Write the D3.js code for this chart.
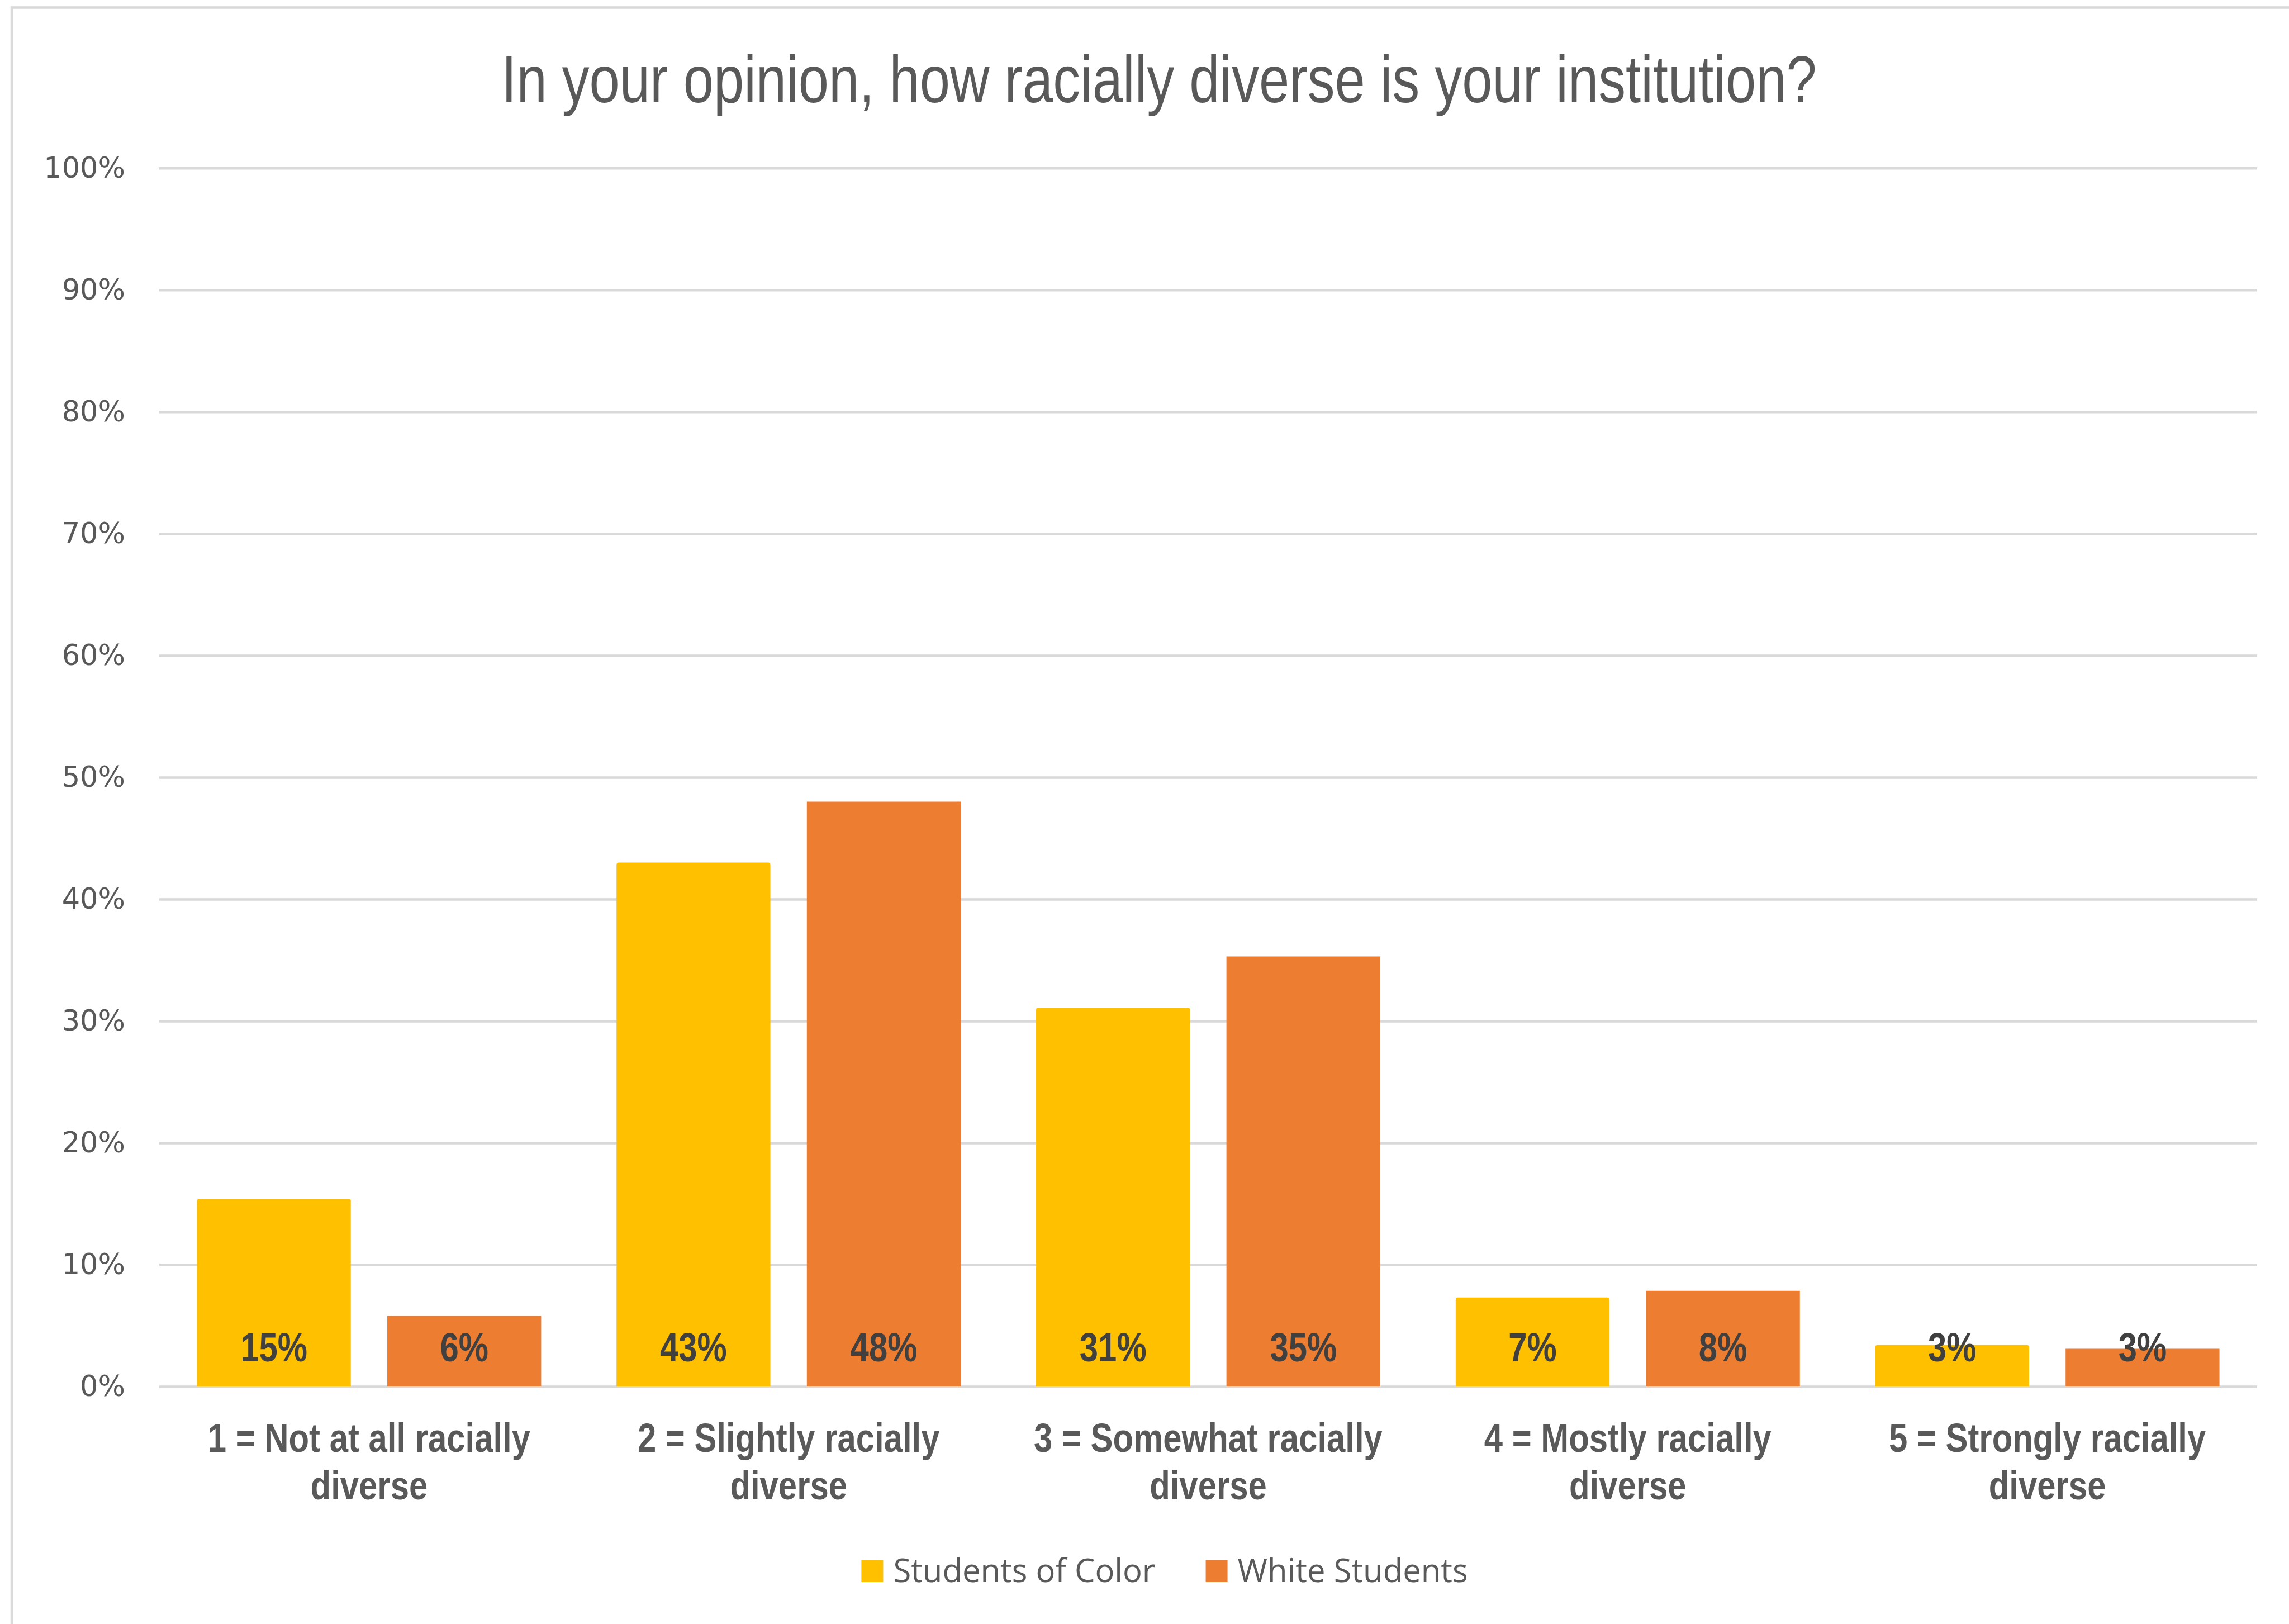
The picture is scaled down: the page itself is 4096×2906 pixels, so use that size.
<!DOCTYPE html>
<html>
<head>
<meta charset="utf-8">
<script src="https://cdn.jsdelivr.net/npm/d3@7"></script>
<style>
  html, body { margin: 0; padding: 0; background: #ffffff; }
  svg { display: block; }
</style>
</head>
<body>
<svg id="chart" width="4096" height="2906"></svg>
<script>
// ---- Data ----
const chartTitle = "In your opinion, how racially diverse is your institution?";
const categories = [
  "1 = Not at all racially diverse",
  "2 = Slightly racially diverse",
  "3 = Somewhat racially diverse",
  "4 = Mostly racially diverse",
  "5 = Strongly racially diverse"
];
const seriesNames = ["Students of Color", "White Students"];
const studentsOfColor = [0.154, 0.430, 0.311, 0.073, 0.034];
const whiteStudents   = [0.058, 0.480, 0.353, 0.0785, 0.031];
const yTickValues = [0, 0.1, 0.2, 0.3, 0.4, 0.5, 0.6, 0.7, 0.8, 0.9, 1.0];

// ---- Styles / layout ----
const seriesColors = { "Students of Color": "#FFC000", "White Students": "#ED7D31" };
const seriesCorner = { "Students of Color": 4, "White Students": 0 };
const plot = { left: 285, right: 4039, top: 300.8, bottom: 2481 };
const centerX = 2074;
const narrow = 0.82;           // horizontal squeeze for the condensed face
const textGray = "#595959";
const gridGray = "#d9d9d9";
const pct = d3.format(".0%");

const svg = d3.select("#chart");

// Chart frame (open on the right and bottom)
svg.append("rect")
  .attr("x", 21).attr("y", 13.5)
  .attr("width", 4300).attr("height", 3100)
  .attr("fill", "none")
  .attr("stroke", gridGray)
  .attr("stroke-width", 4.5);

// Title
svg.append("g")
  .attr("transform", `translate(${centerX},183) scale(${narrow},1)`)
  .append("text")
  .attr("text-anchor", "middle")
  .attr("font-family", "'Liberation Sans', Arial, sans-serif")
  .attr("font-size", 119)
  .attr("fill", textGray)
  .text(chartTitle);

// Scales
const y = d3.scaleLinear().domain([0, 1]).range([plot.bottom, plot.top]);
const x0 = d3.scaleBand().domain(categories).range([plot.left, plot.right]).padding(0);
const x1 = d3.scaleBand().domain(seriesNames).range([0, x0.bandwidth()])
  .paddingInner(0.1916).paddingOuter(0.198);

// Y axis with gridlines
const yAxis = d3.axisLeft(y)
  .tickValues(yTickValues)
  .tickFormat(pct)
  .tickSize(-(plot.right - plot.left))
  .tickPadding(61);

const axisG = svg.append("g")
  .attr("transform", `translate(${plot.left},0)`)
  .call(yAxis);
axisG.select(".domain").remove();
axisG.selectAll(".tick line")
  .attr("stroke", gridGray)
  .attr("stroke-width", 4.5);
axisG.selectAll(".tick text")
  .attr("font-family", "'DejaVu Sans', Verdana, sans-serif")
  .attr("font-size", 51)
  .attr("fill", textGray);

// Bars
const rows = categories.map((c, i) => ({
  cat: c,
  values: [
    { s: seriesNames[0], v: studentsOfColor[i] },
    { s: seriesNames[1], v: whiteStudents[i] }
  ]
}));

function barPath(x, yTop, w, yBase, r) {
  const h = yBase - yTop;
  r = Math.min(r, h / 2, w / 2);
  return `M${x},${yBase}` +
    `L${x},${yTop + r}` +
    `Q${x},${yTop} ${x + r},${yTop}` +
    `L${x + w - r},${yTop}` +
    `Q${x + w},${yTop} ${x + w},${yTop + r}` +
    `L${x + w},${yBase}Z`;
}

const groups = svg.append("g").selectAll("g.group")
  .data(rows)
  .join("g")
  .attr("class", "group")
  .attr("transform", d => `translate(${x0(d.cat)},0)`);

groups.selectAll("path.bar")
  .data(d => d.values)
  .join("path")
  .attr("class", "bar")
  .attr("fill", d => seriesColors[d.s])
  .attr("d", d => barPath(x1(d.s), y(d.v), x1.bandwidth(), y(0), seriesCorner[d.s]));

// Value labels, placed at the inside base of each bar
groups.selectAll("g.vlabel")
  .data(d => d.values)
  .join("g")
  .attr("class", "vlabel")
  .attr("transform", d => `translate(${x1(d.s) + x1.bandwidth() / 2},${y(0) - 45}) scale(${narrow},1)`)
  .append("text")
  .attr("text-anchor", "middle")
  .attr("font-family", "'Liberation Sans', Arial, sans-serif")
  .attr("font-weight", "bold")
  .attr("font-size", 73)
  .attr("fill", "#404040")
  .text(d => pct(d.v));

// Category labels (two lines each)
const catLabels = svg.append("g").selectAll("g.cat")
  .data(categories)
  .join("g")
  .attr("class", "cat")
  .attr("transform", d => `translate(${x0(d) + x0.bandwidth() / 2},2598) scale(${narrow},1)`)
  .append("text")
  .attr("text-anchor", "middle")
  .attr("font-family", "'Liberation Sans', Arial, sans-serif")
  .attr("font-weight", "bold")
  .attr("font-size", 73)
  .attr("fill", textGray);

catLabels.each(function (d) {
  const m = d.match(/^(.*)\s(diverse)$/);
  const lines = m ? [m[1], m[2]] : [d];
  const t = d3.select(this);
  lines.forEach((ln, i) => {
    t.append("tspan")
      .attr("x", 0)
      .attr("dy", i === 0 ? 0 : 85.5)
      .text(ln);
  });
});

// Legend
const legend = svg.append("g").attr("class", "legend");
const sq = 39, sqGap = 18, itemGap = 90, legendBaseline = 2831;
const items = legend.selectAll("g.item")
  .data(seriesNames)
  .join("g")
  .attr("class", "item");
items.append("rect")
  .attr("width", sq).attr("height", sq)
  .attr("y", legendBaseline - sq)
  .attr("fill", d => seriesColors[d]);
items.append("text")
  .attr("x", sq + sqGap)
  .attr("y", legendBaseline)
  .attr("font-family", "'Open Sans', 'Noto Sans', sans-serif")
  .attr("font-size", 58)
  .attr("fill", textGray)
  .text(d => d);

const widths = [];
items.each(function () {
  widths.push(sq + sqGap + d3.select(this).select("text").node().getComputedTextLength());
});
const total = d3.sum(widths) + itemGap * (widths.length - 1);
let cursor = 2084 - total / 2;
items.attr("transform", (d, i) => {
  const tx = cursor;
  cursor += widths[i] + itemGap;
  return `translate(${tx},0)`;
});
</script>
</body>
</html>
